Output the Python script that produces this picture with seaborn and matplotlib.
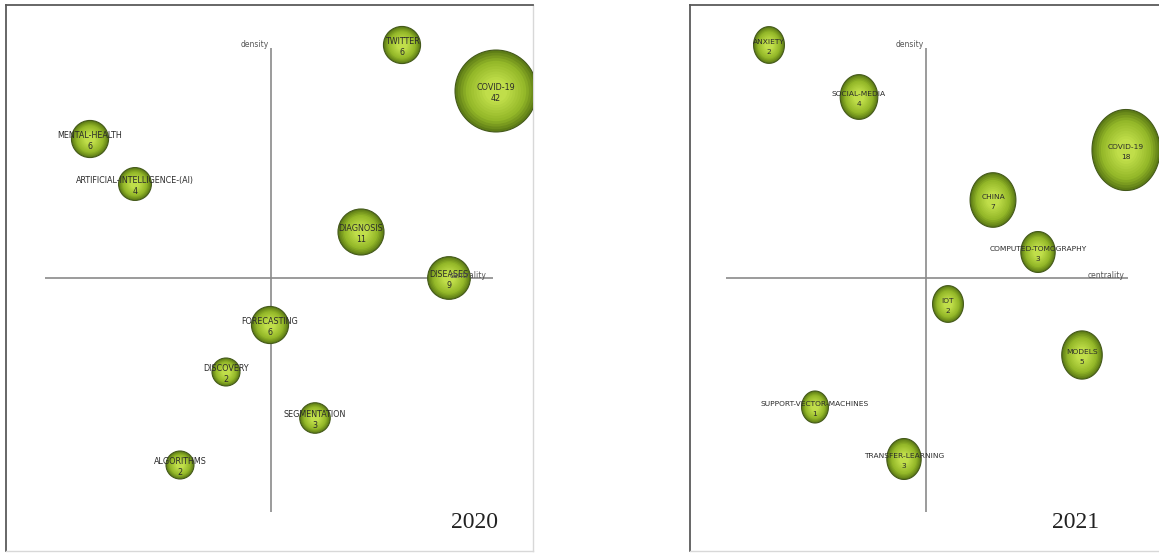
import numpy as np
import pandas as pd
import matplotlib
matplotlib.use("Agg")
import matplotlib.pyplot as plt
import matplotlib.colors as mcolors
from matplotlib.path import Path
import seaborn as sns

# ---------------- data ----------------
topics_2020 = ["TWITTER", "COVID-19", "MENTAL-HEALTH", "ARTIFICIAL-INTELLIGENCE-(AI)",
               "DIAGNOSIS", "DISEASES", "FORECASTING", "DISCOVERY", "SEGMENTATION", "ALGORITHMS"]
docs_2020 = [6, 42, 6, 4, 11, 9, 6, 2, 3, 2]
centrality_2020 = [1.31, 2.25, -1.81, -1.36, 0.90, 1.78, -0.01, -0.45, 0.44, -0.91]
density_2020 = [2.33, 1.87, 1.39, 0.94, 0.46, 0.00, -0.47, -0.94, -1.40, -1.87]

topics_2021 = ["ANXIETY", "SOCIAL-MEDIA", "COVID-19", "CHINA", "COMPUTED-TOMOGRAPHY",
               "IOT", "MODELS", "SUPPORT-VECTOR-MACHINES", "TRANSFER-LEARNING"]
docs_2021 = [2, 4, 18, 7, 3, 2, 5, 1, 3]
centrality_2021 = [-1.57, -0.67, 2.00, 0.67, 1.12, 0.22, 1.56, -1.11, -0.22]
density_2021 = [2.33, 1.81, 1.28, 0.78, 0.26, -0.26, -0.77, -1.29, -1.81]

years = ["2020", "2021"]

# ---------------- style ----------------
sns.set_theme(style="white")
plt.rcParams["font.family"] = ["DejaVu Sans"]

W, H = 1159, 555
fig = plt.figure(figsize=(W / 100, H / 100), dpi=100)


def add_panel(x0, y0, x1, y1):
    return fig.add_axes([x0 / W, 1 - y1 / H, (x1 - x0) / W, (y1 - y0) / H])


# ellipse marker (slightly taller than wide) for the second panel
t = np.linspace(0, 2 * np.pi, 100)
ellipse = Path(np.column_stack([0.42 * np.cos(t), 0.5 * np.sin(t)]), closed=True)

edge_c = np.array(mcolors.to_rgb("#5e7d16"))
mid_c = np.array(mcolors.to_rgb("#93b728"))
ctr_c = np.array(mcolors.to_rgb("#c0de4a"))
n_layers = 12
layers = []
for i in range(n_layers):
    f = 1.0 - i * (0.72 / (n_layers - 1))
    u = i / (n_layers - 1)
    if u < 0.35:
        c = edge_c + (mid_c - edge_c) * (u / 0.35)
    else:
        c = mid_c + (ctr_c - mid_c) * ((u - 0.35) / 0.65)
    layers.append((f, mcolors.to_hex(c)))


def draw_panel(ax, topics, docs, cent, dens, sizes, norm, marker, xlim, ylim,
               hline, vline, cent_x, fs):
    df = pd.DataFrame({"topic": topics, "documents": docs,
                       "centrality": cent, "density": dens})
    ax.hlines(0, hline[0], hline[1], color="#8a8a8a", lw=1.2, zorder=1)
    ax.vlines(0, vline[0], vline[1], color="#8a8a8a", lw=1.2, zorder=1)
    for k, (f, c) in enumerate(layers):
        sns.scatterplot(data=df, x="centrality", y="density", size="documents",
                        sizes=(sizes[0] * f * f, sizes[1] * f * f), size_norm=norm,
                        color=c, marker=marker,
                        edgecolor="#44591a" if k == 0 else "none",
                        linewidth=0.8 if k == 0 else 0,
                        legend=False, ax=ax, zorder=3 + k)
    for _, r in df.iterrows():
        ax.annotate(r["topic"], (r["centrality"], r["density"]), xytext=(0, 2.2),
                    textcoords="offset points", ha="center", va="center",
                    fontsize=fs, color="#2a2a2a", zorder=30)
        ax.annotate(str(r["documents"]), (r["centrality"], r["density"]),
                    xytext=(0, -5.3), textcoords="offset points", ha="center",
                    va="center", fontsize=fs, color="#2a2a2a", zorder=30)
    ax.text(-0.02, vline[1] + 0.04, "density", ha="right", va="center",
            fontsize=5.5, color="#555555", zorder=30)
    ax.text(cent_x, 0.025, "centrality", ha="right", va="center",
            fontsize=5.5, color="#555555", zorder=30)
    ax.set_xlim(*xlim)
    ax.set_ylim(*ylim)
    ax.set_xticks([])
    ax.set_yticks([])
    ax.set_xlabel("")
    ax.set_ylabel("")
    for s in ["top", "left"]:
        ax.spines[s].set_color("#5a5a5a")
        ax.spines[s].set_linewidth(1.3)
    for s in ["right", "bottom"]:
        ax.spines[s].set_color("#d8d8d8")
        ax.spines[s].set_linewidth(1.0)


ax1 = add_panel(6, 5, 533, 551)
draw_panel(ax1, topics_2020, docs_2020, centrality_2020, density_2020,
           sizes=(406, 3480), norm=(2, 42), marker="o",
           xlim=(-2.65, 2.62), ylim=(-2.73, 2.73),
           hline=(-2.26, 2.22), vline=(-2.34, 2.30), cent_x=2.16, fs=5.8)

ax2 = add_panel(690, 5, 1160, 551)
draw_panel(ax2, topics_2021, docs_2021, centrality_2021, density_2021,
           sizes=(530, 3400), norm=(1, 18), marker=ellipse,
           xlim=(-2.36, 2.34), ylim=(-2.73, 2.73),
           hline=(-2.00, 2.02), vline=(-2.34, 2.30), cent_x=1.98, fs=5.4)
ax2.spines["right"].set_visible(False)

fig.text(475 / W, 1 - 522 / H, years[0], ha="center", va="center",
         fontsize=17, family="Liberation Serif", color="#222222")
fig.text(1076 / W, 1 - 522 / H, years[1], ha="center", va="center",
         fontsize=17, family="Liberation Serif", color="#222222")

fig.savefig("out.png", dpi=100)
